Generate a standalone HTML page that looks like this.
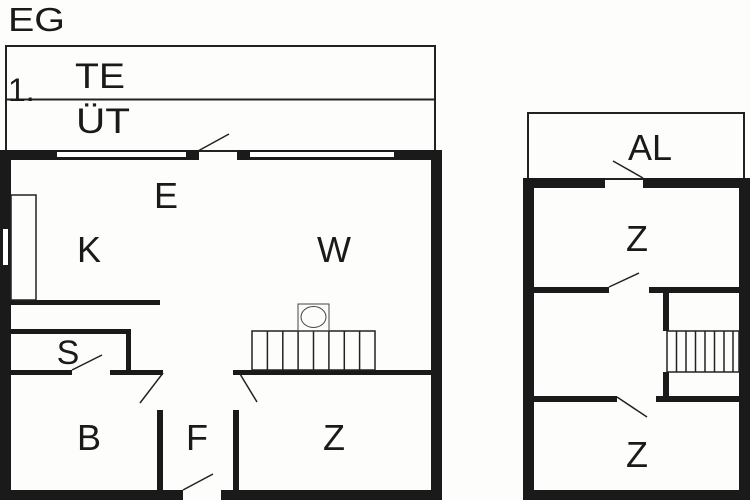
<!DOCTYPE html>
<html><head><meta charset="utf-8"><style>
html,body{margin:0;padding:0;background:#fdfdfb;}
svg{display:block}
text{font-family:"Liberation Sans",sans-serif;fill:#1a1a1a}
</style></head><body>
<svg width="750" height="500" viewBox="0 0 750 500" xmlns="http://www.w3.org/2000/svg">
<rect width="750" height="500" fill="#fdfdfb"/>
<text x="8" y="31" font-size="33" textLength="57" lengthAdjust="spacingAndGlyphs">EG</text>
<!-- terrace -->
<rect x="6" y="46" width="429" height="105" fill="none" stroke="#222" stroke-width="2"/>
<line x1="6" y1="99.5" x2="435" y2="99.5" stroke="#222" stroke-width="2"/>
<text x="8" y="101" font-size="32">1.</text>
<text x="75" y="88" font-size="35" textLength="50" lengthAdjust="spacingAndGlyphs">TE</text>
<text x="76" y="133" font-size="35" textLength="54" lengthAdjust="spacingAndGlyphs">ÜT</text>
<g fill="#1a1a1a">
<rect x="0" y="150" width="199" height="10"/>
<rect x="237" y="150" width="205" height="10"/>
<rect x="0" y="150" width="11" height="350"/>
<rect x="431" y="150" width="11" height="350"/>
<rect x="0" y="490" width="183" height="10"/>
<rect x="221" y="490" width="221" height="10"/>
<rect x="11" y="300" width="149" height="5"/>
<rect x="11" y="329" width="120" height="5"/>
<rect x="126" y="329" width="5" height="44"/>
<rect x="11" y="370" width="61" height="5"/>
<rect x="110" y="370" width="53" height="5"/>
<rect x="157" y="410" width="6" height="80"/>
<rect x="233" y="370" width="198" height="5"/>
<rect x="233" y="410" width="6" height="80"/>
</g>
<rect x="57" y="152" width="129" height="5" fill="#fff"/>
<rect x="250" y="152" width="144" height="5" fill="#fff"/>
<rect x="3" y="229" width="5" height="36" fill="#fff"/>
<g stroke="#222" stroke-width="1.5" fill="none">
<rect x="11" y="195" width="25" height="105"/>
<line x1="198" y1="151" x2="229" y2="134"/>
<line x1="72" y1="370" x2="102" y2="355"/>
<line x1="163" y1="373" x2="140" y2="403"/>
<line x1="240" y1="374" x2="257" y2="402"/>
<line x1="183" y1="490" x2="213" y2="474"/>
<rect x="252" y="331" width="123" height="39"/>
<line x1="267.4" y1="331" x2="267.4" y2="370"/>
<line x1="282.8" y1="331" x2="282.8" y2="370"/>
<line x1="298.1" y1="331" x2="298.1" y2="370"/>
<line x1="313.5" y1="331" x2="313.5" y2="370"/>
<line x1="328.9" y1="331" x2="328.9" y2="370"/>
<line x1="344.3" y1="331" x2="344.3" y2="370"/>
<line x1="359.6" y1="331" x2="359.6" y2="370"/>
</g>
<rect x="298" y="304" width="31" height="27" fill="none" stroke="#444" stroke-width="1"/>
<ellipse cx="313.5" cy="317" rx="12.5" ry="10.5" fill="none" stroke="#444" stroke-width="1"/>
<g font-size="36" text-anchor="middle">
<text x="166" y="208">E</text>
<text x="89" y="262">K</text>
<text x="334" y="262">W</text>
<text x="68" y="364" font-size="34">S</text>
<text x="89" y="450">B</text>
<text x="197" y="450">F</text>
<text x="334" y="450">Z</text>
</g>
<rect x="528" y="113" width="216" height="66" fill="none" stroke="#222" stroke-width="2"/>
<g fill="#1a1a1a">
<rect x="523" y="178" width="82" height="10"/>
<rect x="643" y="178" width="107" height="10"/>
<rect x="523" y="178" width="11" height="322"/>
<rect x="739" y="178" width="11" height="322"/>
<rect x="523" y="490" width="227" height="10"/>
<rect x="534" y="287" width="75" height="6"/>
<rect x="649" y="287" width="90" height="6"/>
<rect x="663" y="293" width="6" height="38"/>
<rect x="663" y="372" width="6" height="25"/>
<rect x="534" y="396" width="83" height="6"/>
<rect x="656" y="396" width="83" height="6"/>
</g>
<g stroke="#222" stroke-width="1.5" fill="none">
<line x1="613" y1="161" x2="643" y2="178"/>
<line x1="609" y1="287" x2="639" y2="273"/>
<line x1="617" y1="397" x2="647" y2="417"/>
<rect x="667" y="331" width="72" height="41"/>
<line x1="676.5" y1="331" x2="676.5" y2="372"/>
<line x1="686" y1="331" x2="686" y2="372"/>
<line x1="695.5" y1="331" x2="695.5" y2="372"/>
<line x1="705" y1="331" x2="705" y2="372"/>
<line x1="714.5" y1="331" x2="714.5" y2="372"/>
<line x1="724" y1="331" x2="724" y2="372"/>
<line x1="733" y1="331" x2="733" y2="372"/>
</g>
<g font-size="36" text-anchor="middle">
<text x="650" y="160">AL</text>
<text x="637" y="251">Z</text>
<text x="637" y="467">Z</text>
</g>
</svg>
</body></html>
